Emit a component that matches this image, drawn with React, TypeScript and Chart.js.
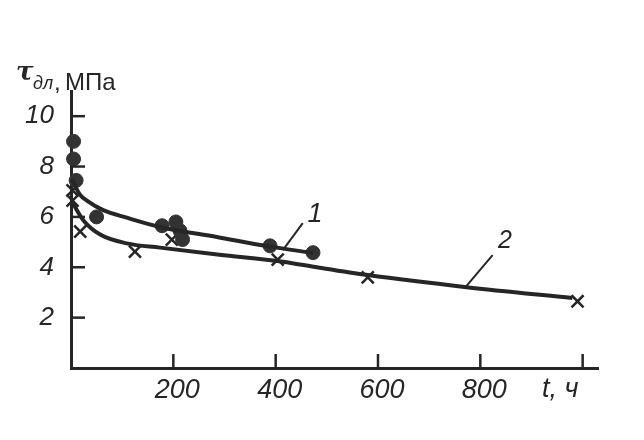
import { useEffect, useRef } from "react";
import { Chart, registerables } from "chart.js";
Chart.register(...registerables);

// Series 1: filled circles (t, h ; tau, MPa)
const dotT = [5, 5, 10, 50, 178, 205, 213, 218, 389, 473];
const dotV = [9.0, 8.3, 7.45, 6.0, 5.65, 5.8, 5.45, 5.1, 4.85, 4.58];
// Series 2: crosses
const crossT = [3, 3, 18, 125, 197, 404, 580, 990];
const crossV = [7.05, 6.65, 5.42, 4.62, 5.1, 4.3, 3.6, 2.65];
// Curve 1
const curve1T = [2, 10, 18, 31, 63, 109, 174, 285, 389, 473];
const curve1V = [7.5, 7.15, 6.87, 6.65, 6.27, 5.97, 5.6, 5.2, 4.82, 4.57];
// Curve 2
const curve2T = [2, 24, 57, 109, 174, 290, 414, 486, 580, 773, 980];
const curve2V = [6.6, 5.87, 5.3, 4.95, 4.78, 4.5, 4.22, 3.98, 3.69, 3.21, 2.78];
// Tick values
const xTickMarks = [200, 400, 600, 800, 1000];
const xTickLabels = ["200", "400", "600", "800"];
const yTickMarks = [2, 4, 6, 8, 10];
const yTickLabels = ["2", "4", "6", "8", "10"];

const INK = "#262626";
const TICK_FONT = "'Liberation Sans', Arial, sans-serif";

const pts = (t: number[], v: number[]) => t.map((x, i) => ({ x, y: v[i] }));

const decor = {
  id: "decor",
  afterDraw(chart: any) {
    const { ctx } = chart;
    const x = chart.scales.x;
    const y = chart.scales.y;
    ctx.save();
    ctx.strokeStyle = INK;
    ctx.fillStyle = INK;
    ctx.lineWidth = 2.5;
    ctx.lineCap = "butt";
    // inward tick marks
    yTickMarks.forEach((v) => {
      const py = y.getPixelForValue(v);
      ctx.beginPath();
      ctx.moveTo(x.left, py);
      ctx.lineTo(x.left + 14, py);
      ctx.stroke();
    });
    xTickMarks.forEach((t) => {
      const px = x.getPixelForValue(t);
      ctx.beginPath();
      ctx.moveTo(px, y.bottom);
      ctx.lineTo(px, y.bottom - 14);
      ctx.stroke();
    });
    // x tick labels
    ctx.font = `italic 27px ${TICK_FONT}`;
    ctx.textAlign = "center";
    ctx.textBaseline = "alphabetic";
    xTickLabels.forEach((lab, i) => {
      ctx.fillText(lab, x.getPixelForValue(xTickMarks[i]) + 4, y.bottom + 30);
    });
    // leader lines for curve labels
    ctx.lineWidth = 2;
    const leader = (t1: number, v1: number, t2: number, v2: number) => {
      ctx.beginPath();
      ctx.moveTo(x.getPixelForValue(t1), y.getPixelForValue(v1));
      ctx.lineTo(x.getPixelForValue(t2), y.getPixelForValue(v2));
      ctx.stroke();
    };
    leader(453, 5.75, 414, 4.68);
    leader(824, 4.48, 771, 3.21);
    // curve labels
    ctx.font = `italic 27px ${TICK_FONT}`;
    ctx.fillText("1", x.getPixelForValue(477), y.getPixelForValue(5.79));
    ctx.font = `italic 25px ${TICK_FONT}`;
    ctx.fillText("2", x.getPixelForValue(848), y.getPixelForValue(4.76));
    // x-axis title
    ctx.textAlign = "left";
    ctx.font = `italic 27px ${TICK_FONT}`;
    ctx.fillText("t, ч", 542, 397);
    // y-axis title
    ctx.font = "bold italic 26px 'DejaVu Serif', serif";
    ctx.fillText("τ", 16, 80);
    ctx.font = `italic 18px ${TICK_FONT}`;
    ctx.fillText("дл", 33, 89);
    ctx.font = `24px ${TICK_FONT}`;
    ctx.fillText(",", 54, 90);
    ctx.fillText("МПа", 65, 90);
    ctx.restore();
  },
};

export default function App() {
  const ref = useRef<HTMLCanvasElement>(null);
  useEffect(() => {
    if (!ref.current) return;
    const chart = new Chart(ref.current, {
      type: "scatter",
      data: {
        datasets: [
          {
            data: pts(curve1T, curve1V),
            showLine: true,
            borderColor: INK,
            borderWidth: 4,
            pointRadius: 0,
            cubicInterpolationMode: "monotone",
            clip: false,
          },
          {
            data: pts(curve2T, curve2V),
            showLine: true,
            borderColor: INK,
            borderWidth: 4,
            pointRadius: 0,
            cubicInterpolationMode: "monotone",
            clip: false,
          },
          {
            data: pts(dotT, dotV),
            pointStyle: "circle",
            pointRadius: 7,
            backgroundColor: "#333",
            borderColor: "#333",
            borderWidth: 1,
            clip: false,
          },
          {
            data: pts(crossT, crossV),
            pointStyle: "crossRot",
            pointRadius: 8.5,
            borderColor: INK,
            borderWidth: 2.5,
            clip: false,
          },
        ],
      } as any,
      options: {
        animation: false,
        responsive: false,
        maintainAspectRatio: false,
        layout: { padding: { left: 0, top: 91, right: 46, bottom: 0 } },
        plugins: {
          legend: { display: false },
          tooltip: { enabled: false },
        },
        scales: {
          x: {
            type: "linear",
            position: "bottom",
            min: 0,
            max: 1030,
            grid: { display: false, drawTicks: false },
            border: { display: true, color: INK, width: 3 },
            afterFit: (s: any) => {
              s.height = 72;
            },
            ticks: { display: false, stepSize: 200, includeBounds: false },
          },
          y: {
            type: "linear",
            position: "left",
            min: 0,
            max: 11,
            grid: { display: false, drawTicks: false },
            border: { display: true, color: INK, width: 3 },
            afterFit: (s: any) => {
              s.width = 71;
            },
            ticks: {
              stepSize: 2,
              includeBounds: false,
              autoSkip: false,
              padding: 17,
              color: INK,
              font: { family: TICK_FONT, size: 26, style: "italic", lineHeight: 1 },
              callback: (v: any) => {
                const i = yTickMarks.indexOf(Number(v));
                return i >= 0 ? yTickLabels[i] : "";
              },
            },
          },
        },
      } as any,
      plugins: [decor],
    });
    return () => chart.destroy();
  }, []);
  return (
    <div style={{ position: "fixed", left: 0, top: 0, width: 644, height: 440, background: "#fff" }}>
      <canvas ref={ref} width={644} height={440} style={{ width: 644, height: 440, display: "block" }} />
    </div>
  );
}
